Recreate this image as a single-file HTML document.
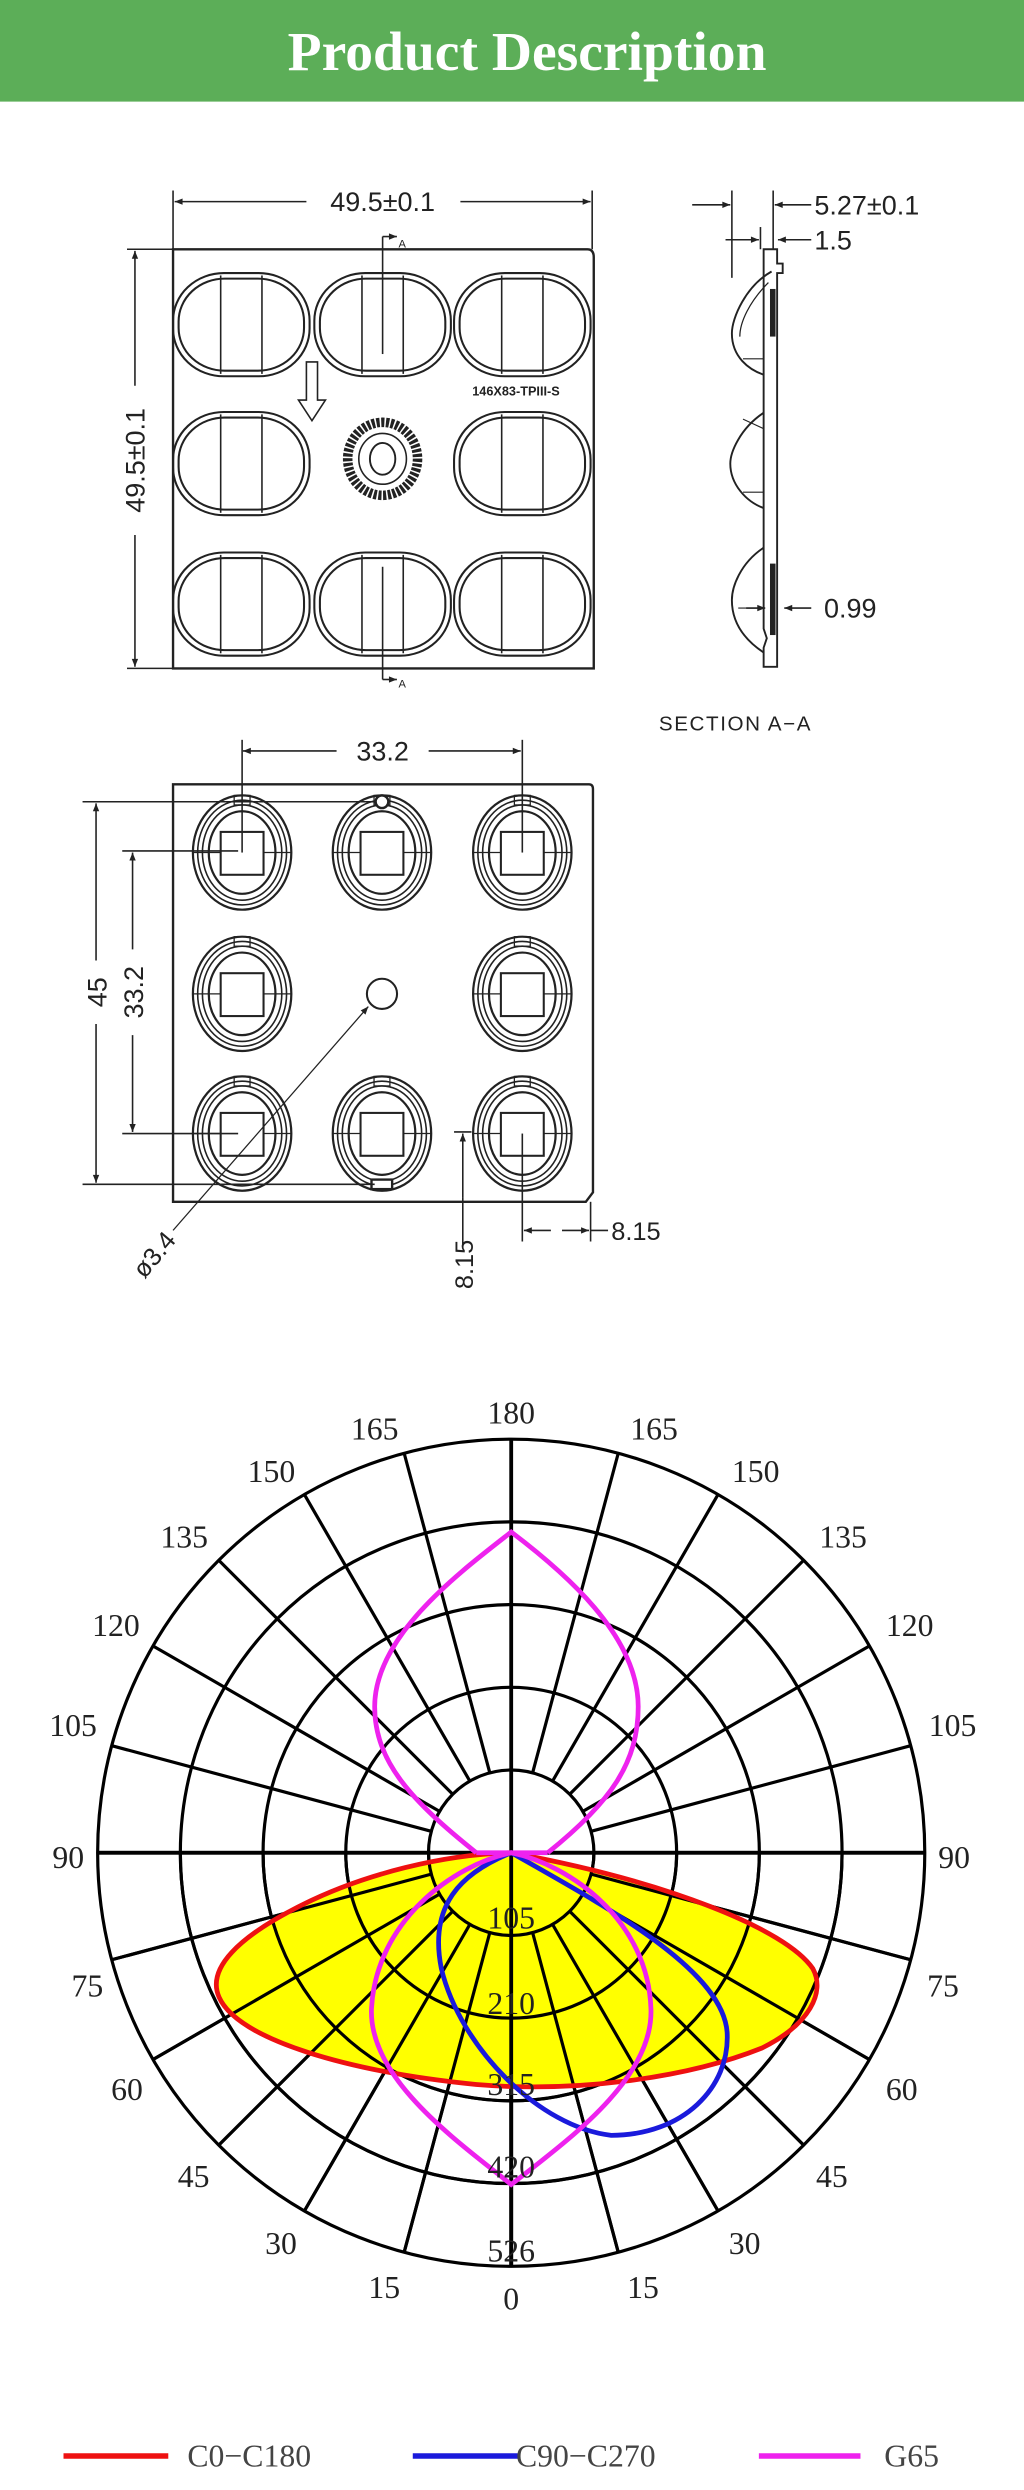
<!DOCTYPE html>
<html><head><meta charset="utf-8"><style>
html,body{margin:0;padding:0;background:#fff;}
svg{display:block;}
</style></head><body>
<svg width="1024" height="2490" viewBox="0 0 645 1568.4" xmlns="http://www.w3.org/2000/svg">
<defs>
<marker id="ar" viewBox="0 0 10 10" refX="10" refY="5" markerWidth="7" markerHeight="5" orient="auto-start-reverse" markerUnits="userSpaceOnUse"><path d="M0,1 L10,5 L0,9 Z" fill="#222"/></marker>
<g id="lens">
<rect x="-43" y="-32.5" width="86" height="65" rx="32" ry="30" fill="none" stroke="#222" stroke-width="1.3"/>
<rect x="-39.5" y="-29" width="79" height="58" rx="29" ry="27" fill="none" stroke="#222" stroke-width="1.3"/>
<line x1="-13" y1="-31" x2="-13" y2="31" stroke="#222" stroke-width="1"/>
<line x1="13" y1="-31" x2="13" y2="31" stroke="#222" stroke-width="1"/>
</g>
<g id="cell">
<ellipse rx="31" ry="36" fill="none" stroke="#222" stroke-width="1.4"/>
<ellipse rx="28" ry="33" fill="none" stroke="#222" stroke-width="1"/>
<ellipse rx="25" ry="30" fill="none" stroke="#222" stroke-width="1"/>
<ellipse rx="21" ry="26" fill="none" stroke="#222" stroke-width="1.4"/>
<rect x="-13.5" y="-13" width="27" height="27" fill="#fff" stroke="#222" stroke-width="1.3"/>
<line x1="-31" y1="0" x2="-13.5" y2="0" stroke="#222" stroke-width="0.8"/>
<line x1="13.5" y1="0" x2="31" y2="0" stroke="#222" stroke-width="0.8"/>
<rect x="-5" y="-36" width="10" height="6" fill="none" stroke="#222" stroke-width="0.8"/>
</g>
</defs>
<rect x="0" y="0" width="645" height="64" fill="#5cae58"/>
<text x="332" y="44" text-anchor="middle" font-family="Liberation Serif, serif" font-weight="bold" font-size="35" fill="#fff">Product Description</text>

<!-- TOP DRAWING -->
<g font-family="Liberation Sans, sans-serif" fill="#222">
<path d="M109,157 L370,157 Q374,157 374,162 L374,421 L109,421 Z" fill="none" stroke="#222" stroke-width="1.5"/>
<line x1="109" y1="120" x2="109" y2="157" stroke="#222" stroke-width="1"/>
<line x1="373" y1="120" x2="373" y2="157" stroke="#222" stroke-width="1"/>
<line x1="110" y1="127" x2="193" y2="127" stroke="#222" stroke-width="1" marker-start="url(#ar)"/>
<line x1="290" y1="127" x2="372" y2="127" stroke="#222" stroke-width="1" marker-end="url(#ar)"/>
<text x="241" y="133" text-anchor="middle" font-size="17">49.5±0.1</text>
<line x1="80" y1="157" x2="109" y2="157" stroke="#222" stroke-width="1"/>
<line x1="80" y1="421" x2="109" y2="421" stroke="#222" stroke-width="1"/>
<line x1="85" y1="158" x2="85" y2="243" stroke="#222" stroke-width="1" marker-start="url(#ar)"/>
<line x1="85" y1="337" x2="85" y2="420" stroke="#222" stroke-width="1" marker-end="url(#ar)"/>
<text transform="translate(91,290) rotate(-90)" text-anchor="middle" font-size="17">49.5±0.1</text>
<use href="#lens" x="152" y="204.5"/><use href="#lens" x="241" y="204.5"/><use href="#lens" x="329" y="204.5"/>
<use href="#lens" x="152" y="292"/><use href="#lens" x="329" y="292"/>
<use href="#lens" x="152" y="380.5"/><use href="#lens" x="241" y="380.5"/><use href="#lens" x="329" y="380.5"/>
<ellipse cx="241" cy="289" rx="22" ry="23" fill="none" stroke="#222" stroke-width="6" stroke-dasharray="2 1"/>
<ellipse cx="241" cy="289" rx="15" ry="16" fill="none" stroke="#222" stroke-width="1"/>
<ellipse cx="241" cy="289" rx="8" ry="10" fill="none" stroke="#222" stroke-width="1.2"/>
<line x1="241" y1="149" x2="241" y2="223" stroke="#222" stroke-width="1"/>
<line x1="241" y1="149" x2="250" y2="149" stroke="#222" stroke-width="1" marker-end="url(#ar)"/>
<text x="251" y="156" font-size="7">A</text>
<line x1="241" y1="357" x2="241" y2="428" stroke="#222" stroke-width="1"/>
<line x1="241" y1="428" x2="250" y2="428" stroke="#222" stroke-width="1" marker-end="url(#ar)"/>
<text x="251" y="433" font-size="7">A</text>
<path d="M193,228 L200,228 L200,252 L205,252 L196.5,265 L188,252 L193,252 Z" fill="none" stroke="#222" stroke-width="1"/>
<text x="325" y="249" text-anchor="middle" font-size="8" font-weight="bold">146X83-TPIII-S</text>

<!-- section view -->
<path d="M481,157 L489.5,157 L489.5,166 L493,166 L493,172 L489.5,172 L489.5,420 L481,420 L481,408 L483,402 L481,396 Z" fill="none" stroke="#222" stroke-width="1.2"/>
<path d="M486,171 C470,180 461,200 461,210 C461,225 472,233 481,236" fill="none" stroke="#222" stroke-width="1.2"/>
<path d="M484,178 C472,190 466,203 466,212" fill="none" stroke="#222" stroke-width="0.8"/>
<path d="M481,260 C466,270 460,285 460,292 C460,305 470,316 481,320" fill="none" stroke="#222" stroke-width="1.2"/>
<path d="M481,345 C466,355 461,370 461,378 C461,395 472,405 481,411" fill="none" stroke="#222" stroke-width="1.2"/>
<rect x="485" y="182" width="3.5" height="30" fill="#222"/>
<rect x="485" y="355" width="3.5" height="45" fill="#222"/>
<line x1="468" y1="226" x2="481" y2="226" stroke="#222" stroke-width="0.7"/>
<line x1="468" y1="264" x2="481" y2="270" stroke="#222" stroke-width="0.7"/>
<line x1="468" y1="310" x2="481" y2="310" stroke="#222" stroke-width="0.7"/>
<line x1="465" y1="383" x2="481" y2="383" stroke="#222" stroke-width="0.7"/>
<line x1="461" y1="120" x2="461" y2="175" stroke="#222" stroke-width="1"/>
<line x1="487" y1="120" x2="487" y2="157" stroke="#222" stroke-width="1"/>
<line x1="479" y1="143" x2="479" y2="157" stroke="#222" stroke-width="1"/>
<line x1="436" y1="129" x2="460" y2="129" stroke="#222" stroke-width="1" marker-end="url(#ar)"/>
<line x1="511" y1="129" x2="488" y2="129" stroke="#222" stroke-width="1" marker-end="url(#ar)"/>
<text x="513" y="135" font-size="17">5.27±0.1</text>
<line x1="457" y1="151" x2="478" y2="151" stroke="#222" stroke-width="1" marker-end="url(#ar)"/>
<line x1="511" y1="151" x2="490" y2="151" stroke="#222" stroke-width="1" marker-end="url(#ar)"/>
<text x="513" y="157" font-size="17">1.5</text>
<line x1="470" y1="383" x2="482" y2="383" stroke="#222" stroke-width="1" marker-end="url(#ar)"/>
<line x1="511" y1="383" x2="494" y2="383" stroke="#222" stroke-width="1" marker-end="url(#ar)"/>
<text x="519" y="389" font-size="17">0.99</text>
<text x="415" y="460" font-size="13" letter-spacing="1">SECTION  A−A</text>
</g>

<!-- BOTTOM DRAWING -->
<g font-family="Liberation Sans, sans-serif" fill="#222">
<path d="M109,494 L371,494 Q373.5,494 373.5,497 L373.5,751 L369,757 L109,757 Z" fill="none" stroke="#222" stroke-width="1.5"/>
<use href="#cell" x="152.5" y="537"/><use href="#cell" x="240.6" y="537"/><use href="#cell" x="329" y="537"/>
<use href="#cell" x="152.5" y="626"/><use href="#cell" x="329" y="626"/>
<use href="#cell" x="152.5" y="714"/><use href="#cell" x="240.6" y="714"/><use href="#cell" x="329" y="714"/>
<circle cx="240.6" cy="505" r="4" fill="#fff" stroke="#222" stroke-width="1.5"/>
<rect x="234" y="743" width="13" height="6" fill="#fff" stroke="#222" stroke-width="1.5"/>
<circle cx="240.6" cy="626" r="9.5" fill="none" stroke="#222" stroke-width="1.3"/>
<line x1="152.5" y1="466" x2="152.5" y2="537" stroke="#222" stroke-width="1"/>
<line x1="329" y1="466" x2="329" y2="537" stroke="#222" stroke-width="1"/>
<line x1="153" y1="473" x2="212" y2="473" stroke="#222" stroke-width="1" marker-start="url(#ar)"/>
<line x1="270" y1="473" x2="328" y2="473" stroke="#222" stroke-width="1" marker-end="url(#ar)"/>
<text x="241" y="479" text-anchor="middle" font-size="17">33.2</text>
<line x1="52" y1="505" x2="236" y2="505" stroke="#222" stroke-width="1"/>
<line x1="52" y1="746" x2="236" y2="746" stroke="#222" stroke-width="1"/>
<line x1="60.5" y1="506" x2="60.5" y2="605" stroke="#222" stroke-width="1" marker-start="url(#ar)"/>
<line x1="60.5" y1="645" x2="60.5" y2="745" stroke="#222" stroke-width="1" marker-end="url(#ar)"/>
<text transform="translate(67,625) rotate(-90)" text-anchor="middle" font-size="17">45</text>
<line x1="77" y1="536" x2="150" y2="536" stroke="#222" stroke-width="1"/>
<line x1="77" y1="714" x2="150" y2="714" stroke="#222" stroke-width="1"/>
<line x1="83.5" y1="537" x2="83.5" y2="598" stroke="#222" stroke-width="1" marker-start="url(#ar)"/>
<line x1="83.5" y1="652" x2="83.5" y2="713" stroke="#222" stroke-width="1" marker-end="url(#ar)"/>
<text transform="translate(90,625) rotate(-90)" text-anchor="middle" font-size="17">33.2</text>
<line x1="109" y1="775" x2="232" y2="634" stroke="#222" stroke-width="0.8" marker-end="url(#ar)"/>
<text transform="translate(91,806) rotate(-50)" font-size="16">ø3.4</text>
<line x1="286" y1="713" x2="297" y2="713" stroke="#222" stroke-width="1"/>
<line x1="291.5" y1="754" x2="291.5" y2="714" stroke="#222" stroke-width="1" marker-end="url(#ar)"/>
<line x1="291.5" y1="754" x2="291.5" y2="785" stroke="#222" stroke-width="1"/>
<text transform="translate(298,812) rotate(-90)" text-anchor="start" font-size="16">8.15</text>
<line x1="329" y1="714" x2="329" y2="782" stroke="#222" stroke-width="1"/>
<line x1="372" y1="757" x2="372" y2="782" stroke="#222" stroke-width="1"/>
<line x1="347" y1="775" x2="330" y2="775" stroke="#222" stroke-width="1" marker-end="url(#ar)"/>
<line x1="354" y1="775" x2="371" y2="775" stroke="#222" stroke-width="1" marker-end="url(#ar)"/>
<line x1="372" y1="775" x2="383" y2="775" stroke="#222" stroke-width="1"/>
<text x="385" y="781" font-size="16">8.15</text>
</g>

<!-- POLAR -->
<g transform="translate(322,1167)">
<g fill="none" stroke="#000" stroke-width="2">
<circle r="52.1"/><circle r="104.2"/><circle r="156.3"/><circle r="208.4"/><circle r="260.5"/>
<line x1="-260.5" y1="0" x2="260.5" y2="0" stroke-width="2.4"/>
<line x1="0" y1="-260.5" x2="0" y2="260.5" stroke-width="2.4"/>
<g id="rad">
<line x1="0" y1="52.1" x2="0" y2="260.5" transform="rotate(15)"/>
<line x1="0" y1="52.1" x2="0" y2="260.5" transform="rotate(30)"/>
<line x1="0" y1="52.1" x2="0" y2="260.5" transform="rotate(45)"/>
<line x1="0" y1="52.1" x2="0" y2="260.5" transform="rotate(60)"/>
<line x1="0" y1="52.1" x2="0" y2="260.5" transform="rotate(75)"/>
<line x1="0" y1="52.1" x2="0" y2="260.5" transform="rotate(105)"/>
<line x1="0" y1="52.1" x2="0" y2="260.5" transform="rotate(120)"/>
<line x1="0" y1="52.1" x2="0" y2="260.5" transform="rotate(135)"/>
<line x1="0" y1="52.1" x2="0" y2="260.5" transform="rotate(150)"/>
<line x1="0" y1="52.1" x2="0" y2="260.5" transform="rotate(165)"/>
<line x1="0" y1="52.1" x2="0" y2="260.5" transform="rotate(-15)"/>
<line x1="0" y1="52.1" x2="0" y2="260.5" transform="rotate(-30)"/>
<line x1="0" y1="52.1" x2="0" y2="260.5" transform="rotate(-45)"/>
<line x1="0" y1="52.1" x2="0" y2="260.5" transform="rotate(-60)"/>
<line x1="0" y1="52.1" x2="0" y2="260.5" transform="rotate(-75)"/>
<line x1="0" y1="52.1" x2="0" y2="260.5" transform="rotate(-105)"/>
<line x1="0" y1="52.1" x2="0" y2="260.5" transform="rotate(-120)"/>
<line x1="0" y1="52.1" x2="0" y2="260.5" transform="rotate(-135)"/>
<line x1="0" y1="52.1" x2="0" y2="260.5" transform="rotate(-150)"/>
<line x1="0" y1="52.1" x2="0" y2="260.5" transform="rotate(-165)"/>
</g>
</g>
</g>
<path d="M322,1167 C280,1168 230,1180 190,1200 C150,1220 130,1240 138,1258 C150,1285 220,1305 300,1313 C360,1318 430,1310 480,1290 C510,1275 520,1255 512,1240 C495,1215 420,1185 322,1167 Z" fill="#ffff00" fill-opacity="1" stroke="none"/>
<!-- redraw grid lines over yellow -->
<g transform="translate(322,1167)" fill="none" stroke="#000" stroke-width="2">
<path d="M-52.1,0 A52.1,52.1 0 0 0 52.1,0 M-104.2,0 A104.2,104.2 0 0 0 104.2,0 M-156.3,0 A156.3,156.3 0 0 0 156.3,0 M-208.4,0 A208.4,208.4 0 0 0 208.4,0"/>
<line x1="0" y1="0" x2="0" y2="260.5" stroke-width="2.4"/>
<line x1="-260.5" y1="0" x2="260.5" y2="0" stroke-width="2.4"/>
<line x1="0" y1="52.1" x2="0" y2="260.5" transform="rotate(15)"/>
<line x1="0" y1="52.1" x2="0" y2="260.5" transform="rotate(30)"/>
<line x1="0" y1="52.1" x2="0" y2="260.5" transform="rotate(45)"/>
<line x1="0" y1="52.1" x2="0" y2="260.5" transform="rotate(60)"/>
<line x1="0" y1="52.1" x2="0" y2="260.5" transform="rotate(75)"/>
<line x1="0" y1="52.1" x2="0" y2="260.5" transform="rotate(-15)"/>
<line x1="0" y1="52.1" x2="0" y2="260.5" transform="rotate(-30)"/>
<line x1="0" y1="52.1" x2="0" y2="260.5" transform="rotate(-45)"/>
<line x1="0" y1="52.1" x2="0" y2="260.5" transform="rotate(-60)"/>
<line x1="0" y1="52.1" x2="0" y2="260.5" transform="rotate(-75)"/>
</g>
<path d="M322,1167 C280,1168 230,1180 190,1200 C150,1220 130,1240 138,1258 C150,1285 220,1305 300,1313 C360,1318 430,1310 480,1290 C510,1275 520,1255 512,1240 C495,1215 420,1185 322,1167 Z" fill="none" stroke="#ee1111" stroke-width="3"/>
<path d="M322,1167 C290,1180 270,1200 278,1240 C290,1290 340,1340 385,1345 C430,1345 460,1315 458,1280 C455,1240 380,1200 322,1167 Z" fill="none" stroke="#1a1adc" stroke-width="3"/>
<path d="M300,1167 C260,1135 236,1110 236,1075 C236,1030 290,990 322,965 C355,990 402,1030 402,1075 C402,1110 385,1135 345,1167" fill="none" stroke="#ee22ee" stroke-width="3"/>
<path d="M322,1167 C285,1175 237,1210 234,1265 C232,1310 290,1350 322,1376 C355,1350 412,1310 410,1265 C408,1210 360,1175 322,1167 Z" fill="none" stroke="#ee22ee" stroke-width="3"/>
<line x1="300" y1="1167" x2="322" y2="1167" stroke="#ee22ee" stroke-width="3"/>
<line x1="322" y1="1167" x2="345" y2="1167" stroke="#ee22ee" stroke-width="3"/>

<g font-family="Liberation Serif, serif" font-size="20" fill="#222" text-anchor="middle" dominant-baseline="central">
<text x="322" y="890">180</text>
<text x="236" y="900">165</text><text x="412" y="900">165</text>
<text x="171" y="927">150</text><text x="476" y="927">150</text>
<text x="116" y="968">135</text><text x="531" y="968">135</text>
<text x="73" y="1024">120</text><text x="573" y="1024">120</text>
<text x="46" y="1087">105</text><text x="600" y="1087">105</text>
<text x="43" y="1170">90</text><text x="601" y="1170">90</text>
<text x="55" y="1251">75</text><text x="594" y="1251">75</text>
<text x="80" y="1316">60</text><text x="568" y="1316">60</text>
<text x="122" y="1371">45</text><text x="524" y="1371">45</text>
<text x="177" y="1413">30</text><text x="469" y="1413">30</text>
<text x="242" y="1441">15</text><text x="405" y="1441">15</text>
<text x="322" y="1448">0</text>
<text x="322" y="1208">105</text>
<text x="322" y="1262">210</text>
<text x="322" y="1313">315</text>
<text x="322" y="1365">420</text>
<text x="322" y="1418">526</text>
</g>

<!-- legend -->
<line x1="40" y1="1547" x2="106" y2="1547" stroke="#ee1111" stroke-width="3.5"/>
<line x1="260" y1="1547" x2="326" y2="1547" stroke="#1a1adc" stroke-width="3.5"/>
<line x1="478" y1="1547" x2="542" y2="1547" stroke="#ee22ee" stroke-width="3.5"/>
<g font-family="Liberation Serif, serif" font-size="20" fill="#444" dominant-baseline="central">
<text x="118" y="1547">C0−C180</text>
<text x="325" y="1547">C90−C270</text>
<text x="557" y="1547">G65</text>
</g>
</svg>
</body></html>
